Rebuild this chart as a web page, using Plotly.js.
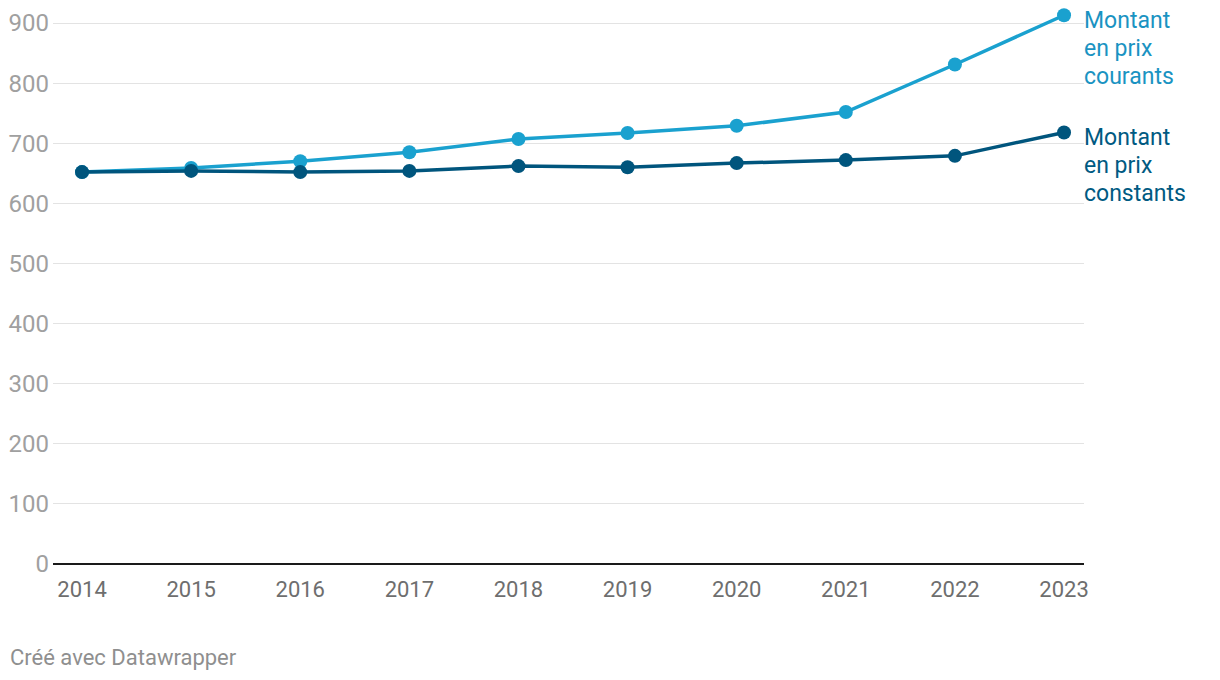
<!DOCTYPE html>
<html>
<head>
<meta charset="utf-8">
<script src="https://cdn.plot.ly/plotly-3.0.1.min.js"></script>
<style>
html,body{margin:0;padding:0;background:#fff;}
#chart{width:1220px;height:680px;}
</style>
</head>
<body>
<div id="chart"></div>
<script>
const years = [2014, 2015, 2016, 2017, 2018, 2019, 2020, 2021, 2022, 2023];
const courants = [652, 659, 670, 685, 707, 717, 729, 752, 831, 913];
const constants = [652, 654, 652, 654, 662, 660, 667, 672, 679, 718];
const yTicks = [0, 100, 200, 300, 400, 500, 600, 700, 800, 900];
const labelCourants = ["Montant", "en prix", "courants"];
const labelConstants = ["Montant", "en prix", "constants"];
const footer = "Créé avec Datawrapper";

const cLight = "#1aa1cf";
const cDark = "#00557d";

const traces = [
  {x: years, y: courants, type: "scatter", mode: "lines+markers",
   line: {color: cLight, width: 3.5}, marker: {color: cLight, size: 14}, hoverinfo: "x+y"},
  {x: years, y: constants, type: "scatter", mode: "lines+markers",
   line: {color: cDark, width: 3.5}, marker: {color: cDark, size: 14}, hoverinfo: "x+y"}
];

function lineLabels(lines, yVal, color) {
  return lines.map((t, i) => ({
    xref: "x", yref: "y", x: years[years.length-1], y: yVal,
    xanchor: "left", yanchor: "middle", xshift: 18, yshift: -5 - 28*i,
    align: "left", text: t, showarrow: false,
    font: {size: 23, color: color}
  }));
}

const layout = {
  width: 1220, height: 680,
  margin: {l: 53, r: 136, t: 5, b: 116},
  paper_bgcolor: "#fff", plot_bgcolor: "#fff",
  showlegend: false,
  font: {family: "Roboto, sans-serif"},
  xaxis: {
    range: [2013.734, 2023.183],
    tickvals: years, ticktext: years.map(String),
    showgrid: false, zeroline: false, showline: false,
    ticks: "", tickfont: {size: 22, color: "#6e6e6e"},
    ticklabelstandoff: 10
  },
  yaxis: {
    range: [0, 930],
    tickvals: yTicks, ticktext: yTicks.map(String),
    showgrid: true, gridcolor: "#e3e3e3", gridwidth: 1,
    zeroline: true, zerolinecolor: "#1a1a1a", zerolinewidth: 2,
    showline: false, ticks: "",
    tickfont: {size: 24, color: "#a0a0a0"},
    ticklabelstandoff: 3
  },
  annotations: [
    ...lineLabels(labelCourants, courants[courants.length-1], "#1a93c2"),
    ...lineLabels(labelConstants, constants[constants.length-1], "#005a82"),
    {xref: "paper", yref: "paper", x: 0, y: 0, xanchor: "left", yanchor: "middle",
     xshift: -45, yshift: -93, text: footer, showarrow: false,
     font: {size: 22, color: "#8f8f8f"}}
  ]
};

Plotly.newPlot("chart", traces, layout, {displayModeBar: false, staticPlot: true});
</script>
</body>
</html>
